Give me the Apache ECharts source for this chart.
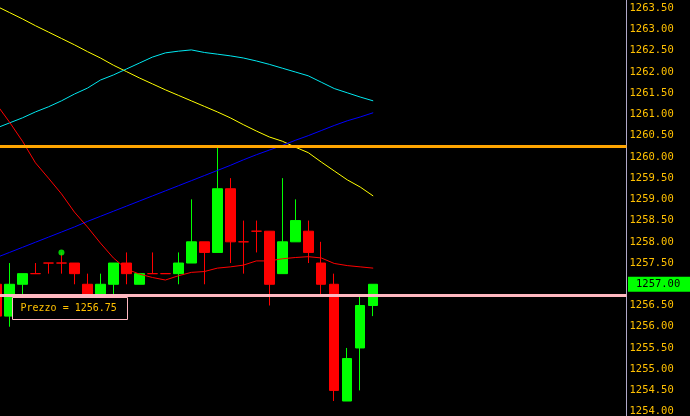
<!DOCTYPE html>
<html>
<head>
<meta charset="utf-8">
<script src="https://cdn.jsdelivr.net/npm/echarts@6/dist/echarts.min.js"></script>
<style>
html,body{margin:0;padding:0;background:#000;}
#c{width:690px;height:416px;}
</style>
</head>
<body>
<div id="c"></div>
<script>
// ---- data ----
const opens  = [1257.00,1256.25,1257.00,1257.25,1257.50,1257.50,1257.50,1257.00,1256.75,1257.00,
                1257.50,1257.00,1257.25,1257.25,1257.25,1257.50,1258.00,1257.75,1259.25,1258.00,
                1258.25,1258.25,1257.25,1258.00,1258.25,1257.50,1257.00,1254.25,1255.50,1256.50];
const closes = [1256.25,1257.00,1257.25,1257.25,1257.50,1257.50,1257.25,1256.75,1257.00,1257.50,
                1257.25,1257.25,1257.25,1257.25,1257.50,1258.00,1257.75,1259.25,1258.00,1258.00,
                1258.25,1257.00,1258.00,1258.50,1257.75,1257.00,1254.50,1255.25,1256.50,1257.00];
const lows   = [1256.00,1256.00,1256.75,1257.25,1257.25,1257.25,1257.00,1256.75,1256.75,1256.75,
                1257.00,1257.00,1257.25,1257.25,1257.00,1257.50,1257.00,1257.75,1257.50,1257.25,
                1257.75,1256.50,1257.25,1258.00,1257.50,1256.75,1254.25,1254.25,1254.50,1256.25];
const highs  = [1257.25,1257.50,1257.25,1257.50,1257.50,1257.75,1257.50,1257.25,1257.25,1257.50,
                1257.75,1257.25,1257.75,1257.25,1257.75,1259.00,1258.00,1260.25,1259.50,1258.50,
                1258.50,1258.25,1259.50,1259.00,1258.50,1258.00,1257.25,1255.50,1256.75,1257.00];
const maYellow = [1263.55,1263.40,1263.25,1263.09,1262.94,1262.79,1262.64,1262.48,1262.33,1262.16,
                  1262.01,1261.86,1261.72,1261.58,1261.45,1261.32,1261.19,1261.06,1260.92,1260.76,
                  1260.61,1260.47,1260.37,1260.23,1260.10,1259.88,1259.67,1259.46,1259.29,1259.08];
const maCyan   = [1260.68,1260.80,1260.92,1261.06,1261.18,1261.32,1261.48,1261.62,1261.81,1261.93,
                  1262.07,1262.21,1262.35,1262.45,1262.49,1262.52,1262.46,1262.42,1262.38,1262.33,
                  1262.26,1262.18,1262.09,1262.00,1261.91,1261.76,1261.61,1261.51,1261.41,1261.32];
const maBlue   = [1257.63,1257.75,1257.87,1257.99,1258.11,1258.23,1258.35,1258.48,1258.60,1258.72,
                  1258.84,1258.96,1259.08,1259.20,1259.32,1259.44,1259.56,1259.68,1259.80,1259.93,
                  1260.05,1260.16,1260.27,1260.39,1260.50,1260.62,1260.74,1260.85,1260.94,1261.04];
const maRed    = [1261.24,1260.82,1260.37,1259.86,1259.50,1259.13,1258.70,1258.35,1257.97,1257.62,
                  1257.36,1257.24,1257.16,1257.10,1257.20,1257.28,1257.30,1257.38,1257.41,1257.45,
                  1257.55,1257.55,1257.60,1257.63,1257.65,1257.62,1257.49,1257.44,1257.41,1257.38];
const signalIdx = [5];
const signalVal = [1257.75];
const levelOrange = 1260.25;
const levelPink = 1256.75;
const lastPrice = 1257.00;
const tooltipText = 'Prezzo = 1256.75';
const slotCount = 49;

const categories = [];
for (let i = 0; i < slotCount; i++) categories.push(String(i));

const candleData = opens.map((o, i) => {
  const item = { value: [o, closes[i], lows[i], highs[i]] };
  if (o === closes[i]) {
    item.itemStyle = { color: '#ff0000', color0: '#ff0000', borderColor: '#ff0000', borderColor0: '#ff0000', borderColorDoji: '#ff0000' };
  }
  return item;
});
const signalData = signalIdx.map((x, i) => [x, signalVal[i]]);

const chart = echarts.init(document.getElementById('c'), null, { renderer: 'canvas' });
const mono = 'DejaVu Sans Mono';
chart.setOption({
  backgroundColor: '#000000',
  animation: false,
  grid: { left: -10, right: 63.5, top: -12.93, bottom: -16.87, containLabel: false, outerBoundsMode: 'none' },
  xAxis: {
    type: 'category', data: categories, boundaryGap: true, show: false
  },
  yAxis: {
    type: 'value', position: 'right', min: 1253.5, max: 1264, interval: 0.5,
    axisLine: { show: true, lineStyle: { color: '#b0a8c8', width: 1 } },
    axisTick: { show: false },
    splitLine: { show: false },
    axisLabel: {
      color: '#ffc000', fontFamily: mono, fontSize: 10.5, margin: 3,
      formatter: v => v.toFixed(2)
    }
  },
  series: [
    {
      type: 'candlestick', data: candleData, barWidth: 10, z: 2,
      itemStyle: {
        color: '#00ff00', color0: '#ff0000',
        borderColor: '#00ff00', borderColor0: '#ff0000', borderColorDoji: '#ff0000',
        borderWidth: 1
      },
      markLine: {
        silent: true, symbol: 'none', z: 5,
        data: [
          { yAxis: levelOrange, lineStyle: { color: '#ffa500', width: 3, type: 'solid' }, label: { show: false } },
          { yAxis: levelPink, lineStyle: { color: '#ffb8c0', width: 3, type: 'solid' }, label: { show: false } }
        ]
      }
    },
    {
      type: 'line', data: [], symbol: 'none',
      markLine: {
        silent: true, symbol: 'none', z: 6,
        data: [
          { yAxis: lastPrice, lineStyle: { color: 'rgba(0,0,0,0)', width: 0 },
            label: { show: true, position: 'end', distance: 1.5, formatter: lastPrice.toFixed(2),
              color: '#000', backgroundColor: '#00ff00', fontFamily: mono, fontSize: 10.5,
              lineHeight: 13, padding: [1, 10, 1, 8] } }
        ]
      }
    },
    { type: 'line', data: maYellow, symbol: 'none', z: 3, lineStyle: { color: '#ffff00', width: 1 } },
    { type: 'line', data: maCyan, symbol: 'none', z: 3, lineStyle: { color: '#00e8f0', width: 1 } },
    { type: 'line', data: maBlue, symbol: 'none', z: 3, lineStyle: { color: '#0000ff', width: 1 } },
    { type: 'line', data: maRed, symbol: 'none', z: 3, lineStyle: { color: '#ff0000', width: 1 } },
    { type: 'scatter', data: signalData, symbol: 'circle', symbolSize: 6, z: 4, itemStyle: { color: '#00ff00' } }
  ],
  graphic: [
    { type: 'rect', z: 100, shape: { x: 12.5, y: 297.5, width: 115, height: 22 },
      style: { fill: '#000', stroke: '#ffb8c0', lineWidth: 1 } },
    { type: 'text', z: 101, x: 20.5, y: 308.5,
      style: { text: tooltipText, fill: '#ffc000', font: '10px "DejaVu Sans Mono"', verticalAlign: 'middle', align: 'left' } }
  ]
});
</script>
</body>
</html>
